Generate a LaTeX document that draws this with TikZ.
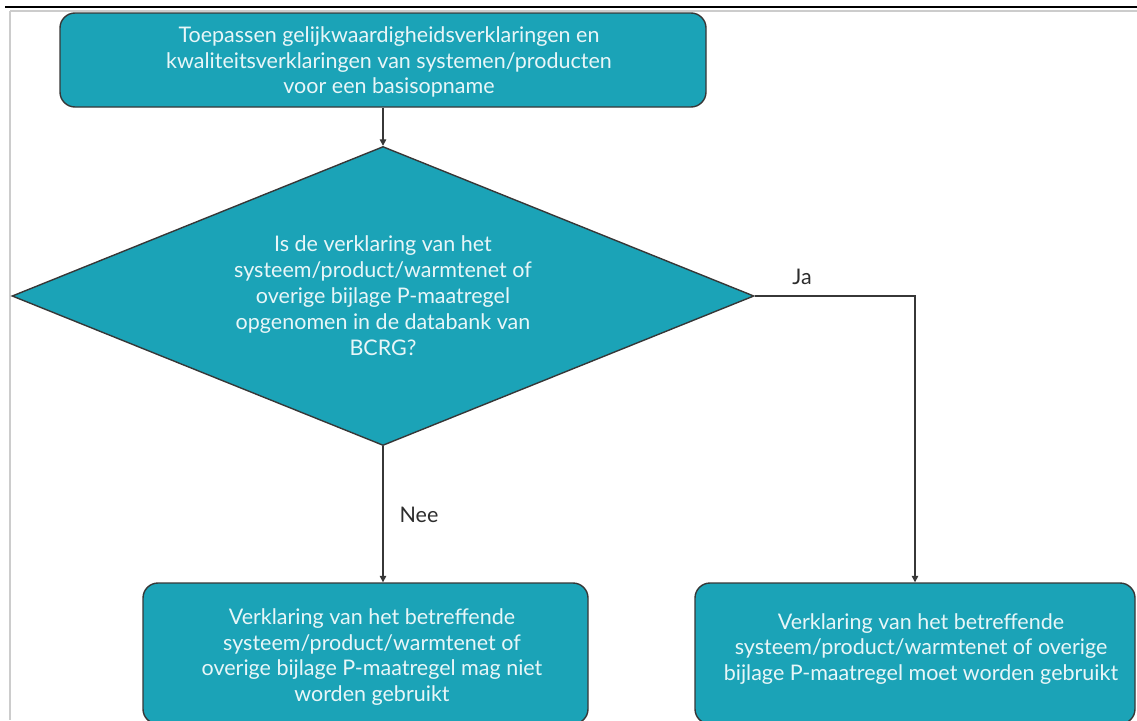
\documentclass[tikz,border=0pt]{standalone}
\usepackage{fontspec}
\setmainfont{Lato}
\usetikzlibrary{arrows.meta,shapes.geometric}
\definecolor{tealfill}{RGB}{27,163,183}
\definecolor{edgegray}{RGB}{55,55,55}
\definecolor{boxtext}{RGB}{232,246,248}
\definecolor{labeltext}{RGB}{45,45,45}
\tikzset{
  stepbox/.style={draw=edgegray, line width=1.4pt, fill=tealfill, rounded corners=15pt,
    inner sep=0pt},
  boxlabel/.style={text=boxtext, align=center, font=\fontsize{21.5}{25.5}\selectfont},
  decision/.style={diamond, aspect=2.5, draw=edgegray, line width=1.4pt, fill=tealfill,
    inner sep=0pt, minimum width=742pt, minimum height=299pt, text=boxtext, align=center,
    font=\fontsize{21.5}{26}\selectfont},
  flow/.style={draw=edgegray, line width=1.3pt, -{Triangle[length=6.5pt,width=6.5pt]}},
  answer/.style={text=labeltext, font=\fontsize{21.5}{24}\selectfont},
}
\begin{document}
\begin{tikzpicture}[x=1pt, y=-1pt]
\useasboundingbox (0,0) rectangle (1137,720);
\clip (0,0) rectangle (1137,720);
% page frame
\draw[line width=2pt, black] (5,7) -- (1137,7);
\draw[line width=1.2pt, black!20] (10,11) -- (1137,11);
\draw[line width=1.2pt, black!20] (10,11) -- (10,720);

% start box
\node[stepbox, minimum width=646pt, minimum height=94pt] (start) at (383,60) {};
\node[boxlabel] (starttext) at (389,62)
  {Toepassen gelijkwaardigheidsverklaringen en\\kwaliteitsverklaringen van systemen/producten\\voor een basisopname};

% decision
\node[decision] (dec) at (383,296)
  {Is de verklaring van het\\systeem/product/warmtenet of\\overige bijlage P-maatregel\\opgenomen in de databank van\\BCRG?};

% outcome boxes
\node[stepbox, minimum width=445pt, minimum height=141pt] (no) at (365.5,653.5) {};
\node[boxlabel] (notext) at (372,657)
  {Verklaring van het betreffende\\systeem/product/warmtenet of\\overige bijlage P-maatregel mag niet\\worden gebruikt};
\node[stepbox, minimum width=440pt, minimum height=141pt] (yes) at (915,653.5) {};
\node[boxlabel] (yestext) at (921,649)
  {Verklaring van het betreffende\\systeem/product/warmtenet of overige\\bijlage P-maatregel moet worden gebruikt};

% connectors
\draw[flow] (start.south) -- (start.south |- dec.north);
\draw[flow] (dec.south) -- (dec.south |- no.north);
\draw[flow] (dec.east) -| (yes.north);

% answer labels
\node[answer] (ja) at (802,277) {Ja};
\node[answer] (nee) at (419,515) {Nee};
\end{tikzpicture}
\end{document}
